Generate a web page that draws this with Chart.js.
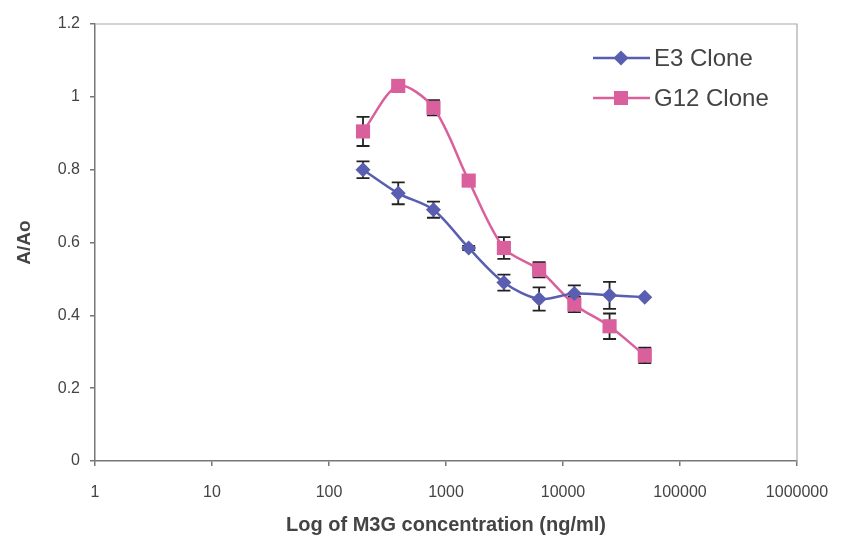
<!DOCTYPE html>
<html>
<head>
<meta charset="utf-8">
<script src="https://cdn.jsdelivr.net/npm/chart.js@4/dist/chart.umd.min.js"></script>
<style>
  html, body { margin: 0; padding: 0; background: #fff; }
  #wrap { width: 842px; height: 540px; }
</style>
</head>
<body>
<div id="wrap"><canvas id="chart"></canvas></div>
<script>
// data
const concentrations = [195.3, 390.6, 781.3, 1562.5, 3125, 6250, 12500, 25000, 50000];
const e3Values = [0.80, 0.735, 0.69, 0.585, 0.49, 0.445, 0.46, 0.455, 0.45];
const e3Errors = [0.023, 0.03, 0.022, 0.006, 0.022, 0.032, 0.022, 0.037, 0];
const g12Values = [0.905, 1.03, 0.97, 0.77, 0.585, 0.525, 0.43, 0.37, 0.29];
const g12Errors = [0.04, 0.005, 0.021, 0.005, 0.03, 0.021, 0.021, 0.035, 0.021];
const seriesNames = ["E3 Clone", "G12 Clone"];
const xTicks = [1, 10, 100, 1000, 10000, 100000, 1000000];

const FONT = "'Liberation Sans', Arial, sans-serif";
const E3_COLOR = "#5a5eb0";
const G12_COLOR = "#d9609c";

function toPoints(xs, ys) {
    return xs.map((x, i) => ({ x: x, y: ys[i] }));
}

// error bars, drawn behind the markers like in the original
const errorBars = {
    id: "errorBars",
    beforeDatasetsDraw(chart) {
        const ctx = chart.ctx;
        const xs = chart.scales.x, ys = chart.scales.y;
        ctx.save();
        ctx.strokeStyle = "#222";
        ctx.lineWidth = 1.8;
        chart.data.datasets.forEach(ds => {
            ds.data.forEach((p, i) => {
                const err = ds.errors[i];
                if (!err) return;
                const px = xs.getPixelForValue(p.x);
                const top = ys.getPixelForValue(p.y + err);
                const bot = ys.getPixelForValue(p.y - err);
                ctx.beginPath();
                ctx.moveTo(px, top); ctx.lineTo(px, bot);
                ctx.moveTo(px - 6.5, top); ctx.lineTo(px + 6.5, top);
                ctx.moveTo(px - 6.5, bot); ctx.lineTo(px + 6.5, bot);
                ctx.stroke();
            });
        });
        ctx.restore();
    }
};

// plot frame + legend
const frameAndLegend = {
    id: "frameAndLegend",
    beforeDatasetsDraw(chart) {
        const { ctx, chartArea: a } = chart;
        ctx.save();
        ctx.strokeStyle = "#a8a8a8";
        ctx.lineWidth = 1.2;
        ctx.beginPath();
        ctx.moveTo(a.left, a.top); ctx.lineTo(a.right, a.top); ctx.lineTo(a.right, a.bottom);
        ctx.stroke();
        ctx.restore();
    },
    afterDraw(chart) {
        const ctx = chart.ctx;
        ctx.save();
        chart.data.datasets.forEach((ds, i) => {
            const y = 58 + i * 40;
            ctx.strokeStyle = ds.borderColor;
            ctx.lineWidth = 2.5;
            ctx.beginPath();
            ctx.moveTo(593, y); ctx.lineTo(650, y);
            ctx.stroke();
            ctx.fillStyle = ds.backgroundColor;
            ctx.beginPath();
            if (ds.pointStyle === "rect") {
                ctx.rect(614, y - 7, 14, 14);
            } else {
                ctx.moveTo(621, y - 7.5); ctx.lineTo(628.5, y); ctx.lineTo(621, y + 7.5); ctx.lineTo(613.5, y);
                ctx.closePath();
            }
            ctx.fill();
            ctx.fillStyle = "#444";
            ctx.font = "24px " + FONT;
            ctx.textBaseline = "middle";
            ctx.fillText(ds.label, 654, y + 1);
        });
        ctx.restore();
    }
};

new Chart(document.getElementById("chart"), {
    type: "line",
    data: {
        datasets: [
            {
                label: seriesNames[0],
                data: toPoints(concentrations, e3Values),
                errors: e3Errors,
                borderColor: E3_COLOR,
                backgroundColor: E3_COLOR,
                borderWidth: 2.5,
                pointStyle: "rectRot",
                pointRadius: 7.5,
                pointBorderWidth: 0,
                tension: 0.3
            },
            {
                label: seriesNames[1],
                data: toPoints(concentrations, g12Values),
                errors: g12Errors,
                borderColor: G12_COLOR,
                backgroundColor: G12_COLOR,
                borderWidth: 2.5,
                pointStyle: "rect",
                pointRadius: 10,
                pointBorderWidth: 0,
                tension: 0.3
            }
        ]
    },
    options: {
        responsive: true,
        maintainAspectRatio: false,
        animation: false,
        layout: { padding: { top: 24, right: 45, left: 0, bottom: 0 } },
        plugins: { legend: { display: false }, tooltip: { enabled: false } },
        scales: {
            x: {
                type: "logarithmic",
                min: 1,
                max: 1000000,
                afterBuildTicks: s => { s.ticks = xTicks.map(v => ({ value: v })); },
                afterFit: s => { s.height = 79; s.paddingLeft = 0; s.paddingRight = 0; },
                grid: { drawOnChartArea: false, drawTicks: true, tickLength: 5, color: "#777", lineWidth: 1.5 },
                border: { display: true, color: "#777", width: 1.5 },
                ticks: {
                    color: "#444",
                    font: { family: FONT, size: 16 },
                    padding: 17,
                    maxRotation: 0,
                    autoSkip: false,
                    callback: v => String(v)
                },
                title: {
                    display: true,
                    text: "Log of M3G concentration (ng/ml)",
                    color: "#444",
                    font: { family: FONT, size: 20, weight: "bold" },
                    padding: { top: 0, bottom: 3 }
                }
            },
            y: {
                min: 0,
                max: 1.2,
                afterFit: s => { s.width = 95; },
                grid: { drawOnChartArea: false, drawTicks: true, tickLength: 5, color: "#777", lineWidth: 1.5 },
                border: { display: true, color: "#777", width: 1.5 },
                ticks: {
                    stepSize: 0.2,
                    color: "#444",
                    font: { family: FONT, size: 16 },
                    padding: 10,
                    callback: v => String(Math.round(v * 10) / 10)
                },
                title: {
                    display: true,
                    text: "A/Ao",
                    color: "#444",
                    font: { family: FONT, size: 19, weight: "bold" },
                    padding: { top: 13, bottom: 0 }
                }
            }
        }
    },
    plugins: [frameAndLegend, errorBars]
});
</script>
</body>
</html>
